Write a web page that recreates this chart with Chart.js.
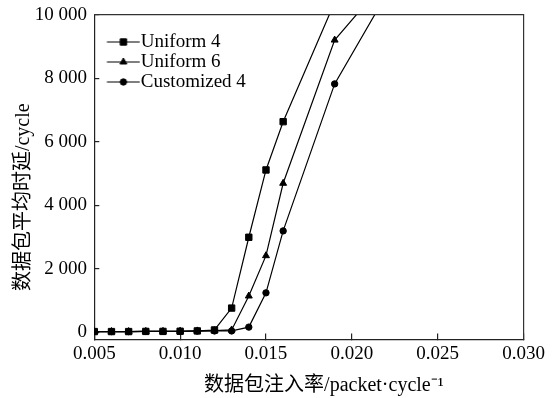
<!DOCTYPE html>
<html><head><meta charset="utf-8">
<script src="https://cdn.jsdelivr.net/npm/chart.js@4.4.1/dist/chart.umd.min.js"></script>
<style>html,body{margin:0;padding:0;background:#fff;} canvas{display:block;}</style>
</head><body>
<canvas id="c" width="554" height="398"></canvas>
<script>
const injectionRates = [0.005,0.006,0.007,0.008,0.009,0.010,0.011,0.012,0.013,0.014,0.015,0.016,0.019,0.022];
const uniform4    = [30,30,30,35,35,40,50,80,770,3000,5120,6640,10400,null];
const uniform6    = [30,30,30,35,35,40,50,60,80,1150,2420,4700,9210,11100];
const customized4 = [30,30,30,35,35,40,45,50,50,170,1250,3200,7830,10630];
const seriesNames = ['Uniform 4','Uniform 6','Customized 4'];
const xTickValues = [0.005,0.010,0.015,0.020,0.025,0.030];
const xTickLabels = ['0.005','0.010','0.015','0.020','0.025','0.030'];
const yTickValues = [0,2000,4000,6000,8000,10000];
const yTickLabels = ['0','2 000','4 000','6 000','8 000','10 000'];
const xTitle = '\u00a0\u00a0\u00a0\u00a0\u00a0\u00a0数据包注入率/packet·cycle⁻¹';
const yTitle = '数据包平均时延/cycle\u00a0\u00a0\u00a0\u00a0\u00a0\u00a0\u00a0\u00a0';

const FAMILY = '"Liberation Serif","Noto Sans CJK SC",serif';
const font = {family: FAMILY, size: 19};
const titleFont = {family: FAMILY, size: 20};
const styles = ['rect','triangle','circle'];
const radii = [4.5, 4, 3.2];
const seriesValues = [uniform4, uniform6, customized4];

function legendImage(style, radius) {
  const c = document.createElement('canvas');
  c.width = 54; c.height = 14;
  const g = c.getContext('2d');
  g.strokeStyle = '#000'; g.fillStyle = '#000'; g.lineWidth = 1.2;
  g.beginPath(); g.moveTo(20.6, 7); g.lineTo(53.6, 7); g.stroke();
  g.lineWidth = 1;
  Chart.helpers.drawPoint(g, {pointStyle: style, radius: radius, rotation: 0, borderWidth: 1}, 37.1, 7);
  return c;
}
const legendImages = styles.map((s, i) => legendImage(s, radii[i]));

const datasets = seriesNames.map((name, i) => ({
  label: name,
  data: injectionRates.map((x, k) => ({x: x, y: seriesValues[i][k]})),
  borderColor: '#000',
  backgroundColor: '#000',
  borderWidth: 1.2,
  pointStyle: styles[i],
  pointRadius: radii[i],
  pointBorderWidth: 1,
  pointBackgroundColor: '#000',
  pointBorderColor: '#000',
  tension: 0,
  spanGaps: false
}));

new Chart(document.getElementById('c'), {
  type: 'line',
  data: {datasets: datasets},
  options: {
    responsive: false,
    animation: false,
    devicePixelRatio: 1,
    layout: {padding: 0},
    plugins: {
      tooltip: {enabled: false},
      legend: {
        position: 'chartArea',
        align: 'start',
        title: {display: true, text: '', font: {size: 10, lineHeight: 1}, padding: {top: 21.5, bottom: 0}},
        labels: {
          font: font,
          color: '#000',
          padding: 1,
          usePointStyle: true,
          pointStyleWidth: 36,
          generateLabels: (chart) => chart.data.datasets.map((ds, i) => ({
            text: ds.label, pointStyle: legendImages[i], fillStyle: '#000', strokeStyle: '#000',
            lineWidth: 0, hidden: false, datasetIndex: i, fontColor: '#000'
          }))
        }
      }
    },
    scales: {
      x: {
        type: 'linear', position: 'bottom', min: 0.005, max: 0.030,
        afterBuildTicks: s => { s.ticks = xTickValues.map(v => ({value: v})); },
        afterFit: s => { s.height = 58.5; s.paddingLeft = 0; s.paddingRight = 0; },
        ticks: {callback: (v, i) => xTickLabels[i], font: font, color: '#000', padding: 9, maxRotation: 0, autoSkip: false},
        grid: {drawOnChartArea: false, tickLength: -6, color: '#222', lineWidth: 1.2},
        border: {color: '#222', width: 1.2},
        title: {display: true, text: xTitle, font: titleFont, color: '#000', padding: {top: 0, bottom: 0}}
      },
      y: {
        type: 'linear', position: 'left', min: -220, max: 10000,
        afterBuildTicks: s => { s.ticks = yTickValues.map(v => ({value: v})); },
        afterFit: s => { s.width = 94.3; s.paddingTop = 0; s.paddingBottom = 0; },
        ticks: {callback: (v, i) => yTickLabels[i], font: font, color: '#000', padding: 12.3, autoSkip: false},
        grid: {drawOnChartArea: false, tickLength: -5, color: '#222', lineWidth: 1.2},
        border: {color: '#222', width: 1.2},
        title: {display: true, text: yTitle, font: titleFont, color: '#000', padding: {top: 12, bottom: 0}}
      },
      xTop: {
        type: 'linear', position: 'top', min: 0, max: 1, display: true,
        afterFit: s => { s.height = 15; s.paddingLeft = 0; s.paddingRight = 0; },
        ticks: {display: false},
        grid: {drawOnChartArea: false, drawTicks: false},
        border: {color: '#333', width: 1.2}
      },
      yRight: {
        type: 'linear', position: 'right', min: 0, max: 1, display: true,
        afterFit: s => { s.width = 30.5; s.paddingTop = 0; s.paddingBottom = 0; },
        ticks: {display: false},
        grid: {drawOnChartArea: false, drawTicks: false},
        border: {color: '#333', width: 1.2}
      }
    }
  }
});
</script>
</body></html>
